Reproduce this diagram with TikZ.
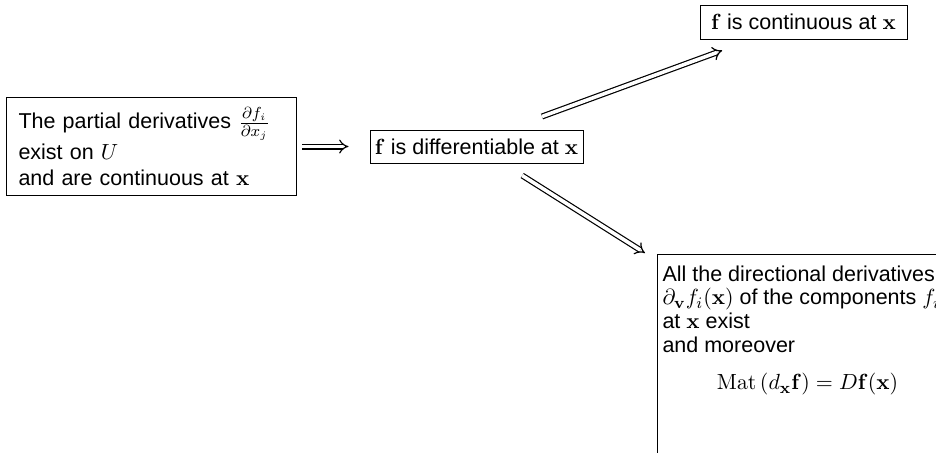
\documentclass[tikz,border=0pt]{standalone}
\usepackage[no-math]{fontspec}
\setmainfont{Liberation Sans}
\usetikzlibrary{arrows.meta}
\tikzset{
  box/.style={draw, line width=0.5pt, inner sep=0pt},
  imp/.style={double, double distance=1.8pt, line width=0.6pt, -{Implies[scale=1.3]}},
}
\begin{document}
\fontsize{10.75}{11.85}\selectfont
\begin{tikzpicture}[x=0.5pt,y=-0.5pt]
\path[use as bounding box, fill=white] (0,0) rectangle (936,452);
\clip (0,0) rectangle (936,452);
\node[box, anchor=north west, minimum width=145pt, minimum height=49pt,
      inner xsep=6pt, text width=133pt, align=left] (left) at (6,97)
  {The partial derivatives $\frac{\partial f_i}{\partial x_j}$\\[1pt]
   exist on $U$\\[1pt]
   and are continuous at $\mathbf{x}$};
\node[box, minimum width=106.5pt, minimum height=16.5pt] (mid) at (476.5,146.5)
  {$\mathbf{f}$ is differentiable at $\mathbf{x}$};
\node[box, minimum width=103.5pt, minimum height=17pt] (top) at (803.5,22)
  {$\mathbf{f}$ is continuous at $\mathbf{x}$};
\node[box, anchor=north west, inner xsep=2.5pt, inner ysep=5.5pt] (bot) at (657,254)
  {\parbox[t][110pt][t]{145pt}{\raggedright
   All the directional derivatives\\
   $\partial_{\mathbf{v}} f_i(\mathbf{x})$ of the components $f_i$\\
   at $\mathbf{x}$ exist\\
   and moreover\\[7pt]
   \makebox[\linewidth][c]{$\mathrm{Mat}\,\bigl(d_{\mathbf{x}}\mathbf{f}\bigr) = D\mathbf{f}(\mathbf{x})$}}};
\draw[imp, shorten <=2.5pt, shorten >=10.5pt] (left.east) -- (mid.west);
\draw[imp] ([xshift=-20.75pt,yshift=6.5pt]mid.north east) -- ([xshift=11.35pt,yshift=-5.5pt]top.south west);
\draw[imp] ([xshift=-30.65pt,yshift=-6pt]mid.south east) -- ([xshift=-6pt,yshift=0.5pt]bot.north west);
\end{tikzpicture}
\end{document}
